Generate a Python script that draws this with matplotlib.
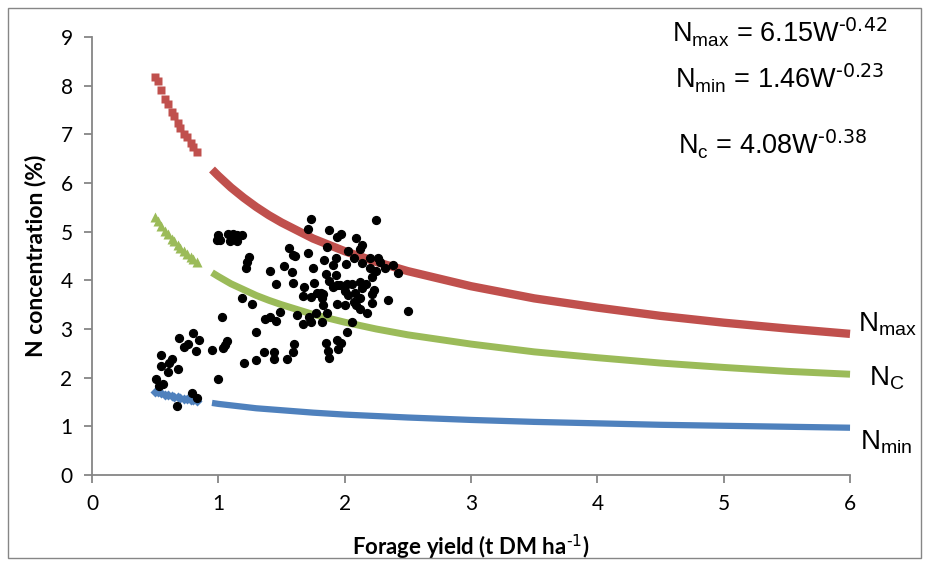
import matplotlib.pyplot as plt
from matplotlib.patches import Rectangle

plt.rcParams['mathtext.default'] = 'regular'
plt.rcParams['font.family'] = 'Lato'

# critical curves, values (two runs of points with a gap between them)
x_low = [0.5, 0.52, 0.55, 0.58, 0.6, 0.63, 0.65, 0.68, 0.7, 0.73, 0.75, 0.78, 0.8, 0.83]
nmax_low = [8.18, 8.09, 7.91, 7.73, 7.62, 7.47, 7.37, 7.23, 7.14, 7.02, 6.94, 6.83, 6.75, 6.65]
nc_low = [5.31, 5.23, 5.12, 5.02, 4.95, 4.86, 4.81, 4.72, 4.67, 4.60, 4.55, 4.48, 4.44, 4.38]
nmin_low = [1.71, 1.70, 1.68, 1.65, 1.64, 1.62, 1.61, 1.60, 1.58, 1.57, 1.56, 1.55, 1.54, 1.52]

x_high = [0.95, 1.0, 1.1, 1.2, 1.3, 1.4, 1.5, 1.75, 2.0, 2.25, 2.5, 3.0, 3.5, 4.0, 4.5, 5.0, 5.5, 6.0]
nmax_high = [6.28, 6.15, 5.91, 5.70, 5.51, 5.34, 5.19, 4.86, 4.60, 4.38, 4.19, 3.88, 3.63, 3.44, 3.27, 3.13, 3.01, 2.90]
nc_high = [4.16, 4.08, 3.93, 3.81, 3.69, 3.59, 3.50, 3.30, 3.14, 3.00, 2.88, 2.69, 2.53, 2.41, 2.30, 2.21, 2.13, 2.07]
nmin_high = [1.48, 1.46, 1.43, 1.40, 1.37, 1.35, 1.33, 1.28, 1.24, 1.21, 1.18, 1.13, 1.09, 1.06, 1.03, 1.01, 0.99, 0.97]

# observed samples
yield_obs = [1.00, 0.99, 1.01, 1.08, 1.12, 1.15, 1.19, 1.09, 1.15, 1.24, 1.23, 1.22, 1.19, 1.03,
             0.80, 0.69, 0.85, 0.76, 0.73, 0.82, 0.95, 1.07, 1.05, 1.04, 0.55, 0.63, 0.61, 0.55,
             0.60, 0.68, 1.20, 0.51, 0.56, 0.53, 1.00, 0.79, 0.83, 0.67,
             1.73, 1.71, 1.88, 1.94, 1.86, 1.56, 1.71, 1.59, 1.61, 1.84, 1.93, 1.91, 1.52, 1.41,
             1.58, 1.75, 1.85, 1.93, 1.46, 1.59, 1.68, 1.76, 1.88, 1.91, 1.94, 1.81, 1.83, 1.78,
             1.67, 1.73, 1.82, 1.83, 1.27, 1.94, 1.62, 1.77, 1.86, 1.49, 1.41, 1.37, 1.46, 1.72,
             1.73, 1.82, 1.67, 1.30, 1.60, 1.85, 1.94, 1.87, 1.95, 1.36, 1.44, 1.59, 1.44, 1.30,
             1.54, 1.88, 2.02, 1.97,
             2.25, 1.97, 2.09, 2.14, 2.12, 2.03, 2.07, 2.20, 2.26, 2.28, 2.01, 2.14, 2.38, 2.32,
             2.20, 2.25, 2.42, 2.22, 1.96, 2.02, 2.06, 2.12, 2.17, 2.14, 2.00, 2.08, 2.23, 2.22,
             2.03, 2.12, 2.34, 2.00, 2.07, 2.09, 2.22, 2.12, 2.18, 2.50, 2.06]
n_obs = [4.93, 4.83, 4.83, 4.95, 4.95, 4.93, 4.93, 4.81, 4.81, 4.49, 4.38, 4.25, 3.63, 3.24,
         2.92, 2.81, 2.77, 2.69, 2.64, 2.55, 2.57, 2.75, 2.67, 2.60, 2.47, 2.38, 2.31, 2.23,
         2.12, 2.17, 2.30, 1.97, 1.87, 1.83, 1.97, 1.69, 1.59, 1.42,
         5.26, 5.05, 5.03, 4.90, 4.68, 4.66, 4.57, 4.52, 4.51, 4.42, 4.45, 4.31, 4.30, 4.20,
         4.18, 4.26, 4.13, 4.11, 3.92, 3.94, 3.87, 3.94, 3.99, 3.87, 3.90, 3.75, 3.71, 3.75,
         3.68, 3.66, 3.63, 3.49, 3.51, 3.51, 3.29, 3.33, 3.32, 3.34, 3.25, 3.21, 3.16, 3.25,
         3.15, 3.15, 3.10, 2.93, 2.69, 2.71, 2.77, 2.55, 2.59, 2.52, 2.52, 2.52, 2.38, 2.36,
         2.38, 2.41, 2.93, 2.71,
         5.24, 4.95, 4.88, 4.73, 4.64, 4.60, 4.45, 4.47, 4.47, 4.38, 4.33, 4.35, 4.31, 4.26,
         4.25, 4.20, 4.16, 4.07, 3.90, 3.92, 3.92, 3.96, 3.92, 3.85, 3.78, 3.75, 3.80, 3.73,
         3.70, 3.64, 3.60, 3.49, 3.56, 3.49, 3.53, 3.41, 3.32, 3.36, 3.14]

red = '#C0504D'
green = '#9BBB59'
blue = '#4F81BD'
grey = '#868686'

fig = plt.figure(figsize=(9.29, 5.64), dpi=100)
ax = fig.add_axes([0.099, 0.158, 0.816, 0.776])

ax.plot(x_high, nmax_high, color=red, lw=6, solid_capstyle='butt', clip_on=False, zorder=2)
ax.plot(x_high, nc_high, color=green, lw=5, solid_capstyle='butt', clip_on=False, zorder=2)
ax.plot(x_high, nmin_high, color=blue, lw=4.5, solid_capstyle='butt', clip_on=False, zorder=2)
ax.plot(x_low, nmax_low, 's', color=red, ms=6, mec='none', zorder=2)
ax.plot(x_low, nc_low, '^', color=green, ms=7.5, mec='none', zorder=2)
ax.plot(x_low, nmin_low, 'D', color=blue, ms=5, mec='none', zorder=2)

ax.scatter(yield_obs, n_obs, s=32, color='black', zorder=3)

ax.set_xlim(0, 6)
ax.set_ylim(0, 9)
ax.set_xticks(range(0, 7))
ax.set_yticks(range(0, 10))
for side in ['top', 'right']:
    ax.spines[side].set_visible(False)
for side in ['left', 'bottom']:
    ax.spines[side].set_color(grey)
    ax.spines[side].set_linewidth(1.3)
ax.tick_params(direction='out', length=6, width=1.3, color=grey, labelsize=15, pad=8)

ax.set_xlabel(r'Forage yield (t DM ha$^{\text{-1}}$)', fontsize=16, fontweight='bold', labelpad=13)
ax.set_ylabel('N concentration (%)', fontsize=16.5, fontweight='bold', labelpad=10)

eq = dict(fontsize=19.5, family='Liberation Sans', ha='left', va='baseline', transform=fig.transFigure)
fig.text(672 / 929, 1 - 42 / 564, r'N$_{max}$ = 6.15W$^{\text{-0.42}}$', **eq)
fig.text(675 / 929, 1 - 88 / 564, r'N$_{min}$ = 1.46W$^{\text{-0.23}}$', **eq)
fig.text(678 / 929, 1 - 154 / 564, r'N$_{c}$ = 4.08W$^{\text{-0.38}}$', **eq)

lab = dict(fontsize=20, family='Liberation Sans', ha='left', va='baseline', transform=fig.transFigure)
fig.text(858 / 929, 1 - 332 / 564, 'N$_{max}$', **lab)
fig.text(869 / 929, 1 - 385 / 564, 'N$_{C}$', **lab)
fig.text(860 / 929, 1 - 450 / 564, 'N$_{min}$', **lab)

fig.add_artist(Rectangle((8 / 929, 6 / 564), 913 / 929, 550 / 564, transform=fig.transFigure,
                         fill=False, ec=grey, lw=1))

fig.savefig('out.png', dpi=100)
